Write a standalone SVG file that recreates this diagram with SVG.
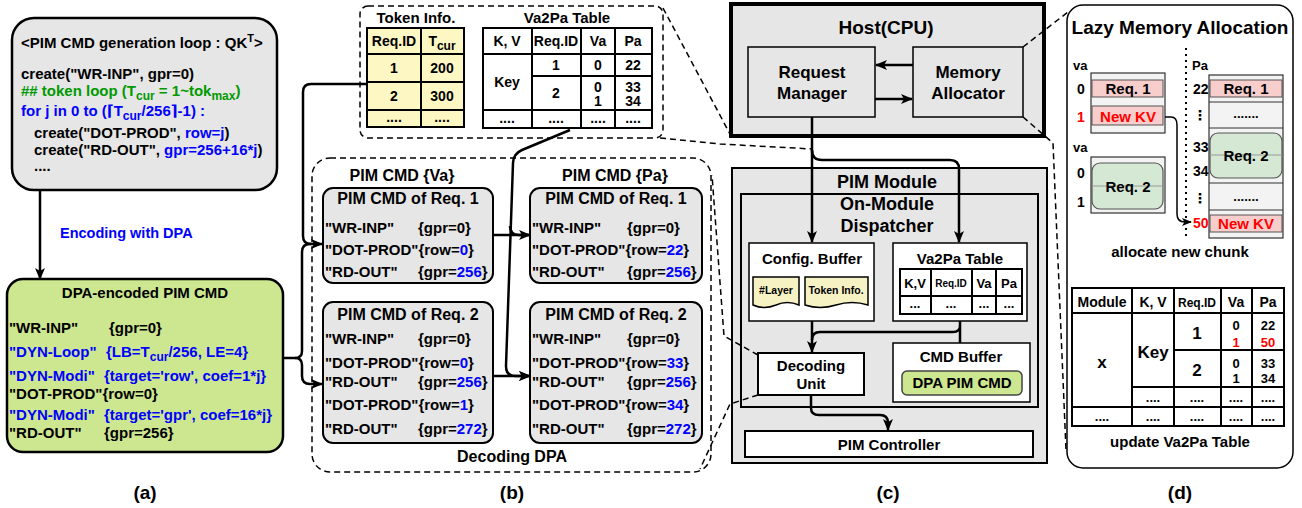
<svg xmlns="http://www.w3.org/2000/svg" width="1302" height="508" viewBox="0 0 1302 508" font-size="15">
<defs>
<marker id="ah" markerWidth="12" markerHeight="10" refX="11" refY="5" orient="auto" markerUnits="userSpaceOnUse"><path d="M0,0 L12,5 L0,10 L3,5 Z" fill="#000"/></marker>
<marker id="ahs" markerWidth="10" markerHeight="8" refX="9" refY="4" orient="auto" markerUnits="userSpaceOnUse"><path d="M0,0 L10,4 L0,8 L2.5,4 Z" fill="#000"/></marker>
</defs>
<style>
text{font-family:"Liberation Sans",Arial,"DejaVu Sans",sans-serif;font-weight:bold;fill:#000}
.c{text-anchor:middle}
.b{fill:#0000ff}
.r{fill:#ff0000}
.g{fill:#009900}
.s14{font-size:14px}
.s13{font-size:13px}
.s16{font-size:16px}
.s17{font-size:17px}
.s18{font-size:18px}
.s19{font-size:19px}
.gray{fill:#e6e6e6;stroke:#000;stroke-width:2}
.dash{fill:none;stroke:#000;stroke-width:1.5;stroke-dasharray:6,4}
.ln{fill:none;stroke:#000;stroke-width:2.5}
.tb{fill:none;stroke:#000;stroke-width:2}
.pink{fill:#f8cecc;stroke:#555;stroke-width:1}
.grn{fill:#d5e8d4;stroke:#555;stroke-width:1.2}
.stk{fill:#f3f3f3;stroke:#333;stroke-width:1.2}
</style>

<!-- Panel (a) -->
<g id="gen-loop">
<rect x="12" y="18" width="265" height="172" rx="22" fill="#e6e6e6" stroke="#000" stroke-width="2.5"/>
<text x="21" y="48">&lt;PIM CMD generation loop : QK<tspan dy="-6" font-size="11">T</tspan><tspan dy="6">&gt;</tspan></text>
<text x="21" y="79">create("WR-INP", gpr=0)</text>
<text x="21" y="96" class="g">## token loop (T<tspan dy="4" font-size="12">cur</tspan><tspan dy="-4"> = 1~tok</tspan><tspan dy="4" font-size="12">max</tspan><tspan dy="-4">)</tspan></text>
<text x="21" y="116" class="b">for j in 0 to (⌈T<tspan dy="4" font-size="12">cur</tspan><tspan dy="-4">/256⌉-1) :</tspan></text>
<text x="34" y="138">create("DOT-PROD", <tspan class="b">row=j</tspan>)</text>
<text x="34" y="155">create("RD-OUT", <tspan class="b">gpr=256+16*j</tspan>)</text>
<text x="34" y="171">....</text>
</g>
<g id="enc-label"><text x="60" y="238" class="b" font-size="14.5">Encoding with DPA</text></g>
<g id="dpa-encoded">
<rect x="7" y="279" width="276" height="173" rx="16" fill="#cde790" stroke="#000" stroke-width="2.5"/>
<text x="145" y="298" class="c">DPA-encoded PIM CMD</text>
<text x="9" y="333">"WR-INP"</text><text x="109" y="333">{gpr=0}</text>
<text x="9" y="357" class="b">"DYN-Loop"</text><text x="106" y="357" class="b">{LB=T<tspan dy="4" font-size="12">cur</tspan><tspan dy="-4">/256, LE=4}</tspan></text>
<text x="9" y="381" class="b">"DYN-Modi"</text><text x="104" y="381" class="b">{target='row', coef=1*j}</text>
<text x="9" y="399">"DOT-PROD"{row=0}</text>
<text x="9" y="420" class="b">"DYN-Modi"</text><text x="104" y="420" class="b">{target='gpr', coef=16*j}</text>
<text x="9" y="438">"RD-OUT"</text><text x="104" y="438">{gpr=256}</text>
</g>
<text x="145" y="499" class="c s19">(a)</text>

<!-- Panel (b) -->
<g id="tables-b">
<rect x="360" y="6" width="303" height="132" rx="8" class="dash"/>
<text x="416" y="23" class="c">Token Info.</text>
<text x="567" y="23" class="c">Va2Pa Table</text>
<rect x="367" y="28" width="97" height="99" fill="#fdf7c3" stroke="#000" stroke-width="2"/>
<path d="M421,28 V127 M367,54 H464 M367,82 H464 M367,110 H464" class="tb"/>
<text x="394" y="46" class="c s14">Req.ID</text>
<text x="442" y="46" class="c s14">T<tspan dy="4" font-size="12">cur</tspan></text>
<text x="394" y="73" class="c s14">1</text><text x="442" y="73" class="c s14">200</text>
<text x="394" y="101" class="c s14">2</text><text x="442" y="101" class="c s14">300</text>
<text x="394" y="122" class="c s14">....</text><text x="442" y="122" class="c s14">....</text>
<rect x="483" y="28" width="169" height="100" fill="#fff" stroke="#000" stroke-width="2"/>
<path d="M532,28 V128 M581,28 V128 M615,28 V128 M483,54 H652 M483,110 H652 M532,76 H652" class="tb"/>
<text x="507" y="46" class="c s14">K, V</text>
<text x="556" y="46" class="c s14">Req.ID</text>
<text x="598" y="46" class="c s14">Va</text>
<text x="633" y="46" class="c s14">Pa</text>
<text x="507" y="87" class="c s14">Key</text>
<text x="556" y="70" class="c s14">1</text><text x="598" y="70" class="c s14">0</text><text x="633" y="70" class="c s14">22</text>
<text x="556" y="98" class="c s14">2</text>
<text x="598" y="92" class="c s14">0</text><text x="598" y="106" class="c s14">1</text>
<text x="633" y="92" class="c s14">33</text><text x="633" y="106" class="c s14">34</text>
<text x="507" y="123" class="c s14">....</text><text x="556" y="123" class="c s14">....</text><text x="598" y="123" class="c s14">....</text><text x="633" y="123" class="c s14">....</text>
</g>

<g id="decoding-dpa">
<rect x="312" y="158" width="399" height="314" rx="18" class="dash"/>
<text x="402" y="181" class="c s16">PIM CMD {Va}</text>
<text x="615" y="181" class="c s16">PIM CMD {Pa}</text>
<text x="512" y="462" class="c s16">Decoding DPA</text>
</g>
<g id="va-req1">
<rect x="323" y="188" width="170" height="95" rx="10" class="gray"/>
<text x="408" y="204" class="c s16">PIM CMD of Req. 1</text>
<text x="325" y="233">"WR-INP"</text><text x="418" y="233">{gpr=0}</text>
<text x="325" y="255">"DOT-PROD"{row=<tspan class="b">0</tspan>}</text>
<text x="325" y="277">"RD-OUT"</text><text x="418" y="277">{gpr=<tspan class="b">256</tspan>}</text>
</g>
<g id="pa-req1">
<rect x="530" y="188" width="172" height="95" rx="10" class="gray"/>
<text x="616" y="204" class="c s16">PIM CMD of Req. 1</text>
<text x="532" y="233">"WR-INP"</text><text x="627" y="233">{gpr=0}</text>
<text x="532" y="255">"DOT-PROD"{row=<tspan class="b">22</tspan>}</text>
<text x="532" y="277">"RD-OUT"</text><text x="627" y="277">{gpr=<tspan class="b">256</tspan>}</text>
</g>
<g id="va-req2">
<rect x="323" y="302" width="170" height="141" rx="10" class="gray"/>
<text x="408" y="320" class="c s16">PIM CMD of Req. 2</text>
<text x="325" y="344">"WR-INP"</text><text x="418" y="344">{gpr=0}</text>
<text x="325" y="368">"DOT-PROD"{row=<tspan class="b">0</tspan>}</text>
<text x="325" y="387">"RD-OUT"</text><text x="418" y="387">{gpr=<tspan class="b">256</tspan>}</text>
<text x="325" y="410">"DOT-PROD"{row=<tspan class="b">1</tspan>}</text>
<text x="325" y="434">"RD-OUT"</text><text x="418" y="434">{gpr=<tspan class="b">272</tspan>}</text>
</g>
<g id="pa-req2">
<rect x="530" y="302" width="172" height="141" rx="10" class="gray"/>
<text x="616" y="320" class="c s16">PIM CMD of Req. 2</text>
<text x="532" y="344">"WR-INP"</text><text x="627" y="344">{gpr=0}</text>
<text x="532" y="368">"DOT-PROD"{row=<tspan class="b">33</tspan>}</text>
<text x="532" y="387">"RD-OUT"</text><text x="627" y="387">{gpr=<tspan class="b">256</tspan>}</text>
<text x="532" y="410">"DOT-PROD"{row=<tspan class="b">34</tspan>}</text>
<text x="532" y="434">"RD-OUT"</text><text x="627" y="434">{gpr=<tspan class="b">272</tspan>}</text>
</g>
<text x="512" y="499" class="c s19">(b)</text>

<!-- Panel (c) -->
<g id="host">
<rect x="731" y="4" width="313" height="132" fill="#e6e6e6" stroke="#000" stroke-width="4"/>
<text x="886" y="34" class="c s19">Host(CPU)</text>
</g>
<g id="request-manager">
<rect x="748" y="47" width="127" height="70" fill="#e6e6e6" stroke="#000" stroke-width="1.5"/>
<text x="812" y="78" class="c s17">Request</text><text x="812" y="99" class="c s17">Manager</text>
</g>
<g id="memory-allocator">
<rect x="913" y="47" width="110" height="70" fill="#e6e6e6" stroke="#000" stroke-width="1.5"/>
<text x="968" y="78" class="c s17">Memory</text><text x="968" y="99" class="c s17">Allocator</text>
</g>
<g id="pim-module">
<rect x="732" y="168" width="315" height="295" fill="#e6e6e6" stroke="#000" stroke-width="2"/>
<text x="887" y="188" class="c s18">PIM Module</text>
</g>
<g id="dispatcher">
<rect x="741" y="194" width="297" height="213" fill="#e6e6e6" stroke="#000" stroke-width="2"/>
<text x="887" y="210" class="c s18">On-Module</text>
<text x="887" y="232" class="c s18">Dispatcher</text>
</g>
<g id="config-buffer">
<rect x="749" y="243" width="125" height="78" fill="#fff" stroke="#000" stroke-width="1.5"/>
<text x="812" y="264" class="c">Config. Buffer</text>
<path d="M753,277 H799 V305 Q787,300 776,305 Q764,310 753,305 Z" fill="#f7f2c4" stroke="#000" stroke-width="1.5"/>
<text x="776" y="294" class="c" font-size="10.5">#Layer</text>
<path d="M805,277 H868 V305 Q852,300 836,305 Q820,310 805,305 Z" fill="#f7f2c4" stroke="#000" stroke-width="1.5"/>
<text x="836" y="294" class="c" font-size="10.5">Token Info.</text>
</g>
<g id="va2pa-c">
<rect x="893" y="243" width="134" height="78" fill="#fff" stroke="#000" stroke-width="1.5"/>
<text x="960" y="264" class="c">Va2Pa Table</text>
<rect x="900" y="269" width="122" height="45" fill="#fff" stroke="#000" stroke-width="2"/>
<path d="M931,269 V314 M972,269 V314 M996,269 V314 M900,296 H1022" class="tb"/>
<text x="915" y="288" class="c s13">K,V</text>
<text x="951" y="287" class="c" font-size="10">Req.ID</text>
<text x="984" y="288" class="c s13">Va</text>
<text x="1009" y="288" class="c s13">Pa</text>
<text x="915" y="308" class="c s13">...</text><text x="951" y="308" class="c s13">...</text><text x="984" y="308" class="c s13">...</text><text x="1009" y="308" class="c s13">...</text>
</g>
<g id="decoding-unit">
<rect x="758" y="353" width="106" height="42" fill="#fff" stroke="#000" stroke-width="2"/>
<text x="811" y="371" class="c">Decoding</text><text x="811" y="389" class="c">Unit</text>
</g>
<g id="cmd-buffer">
<rect x="893" y="343" width="137" height="59" fill="#fff" stroke="#000" stroke-width="1.5"/>
<text x="961" y="362" class="c">CMD Buffer</text>
<rect x="902" y="371" width="120" height="24" rx="5" fill="#cde790" stroke="#444" stroke-width="1.5"/>
<text x="962" y="388" class="c">DPA PIM CMD</text>
</g>
<g id="pim-controller">
<rect x="745" y="431" width="288" height="26" fill="#fff" stroke="#000" stroke-width="2"/>
<text x="889" y="450" class="c">PIM Controller</text>
</g>
<text x="888" y="499" class="c s19">(c)</text>

<!-- Panel (d) -->
<g id="lazy-alloc">
<rect x="1067" y="5" width="226" height="463" rx="16" fill="#fff" stroke="#000" stroke-width="1.5"/>
<text x="1180" y="34" class="c s19">Lazy Memory Allocation</text>
<path d="M1186,48 V240" fill="none" stroke="#000" stroke-width="2" stroke-dasharray="2,4"/>
<text x="1073" y="70" class="s13">va</text>
<text x="1192" y="70" class="s13">Pa</text>
<rect x="1091" y="73" width="74" height="60" class="stk"/>
<rect x="1092" y="80" width="71" height="17" class="pink"/>
<text x="1128" y="94" class="c">Req. 1</text>
<rect x="1092" y="106" width="71" height="19" class="pink"/>
<text x="1128" y="122" class="c r">New KV</text>
<text x="1081" y="94" class="c s14">0</text>
<text x="1081" y="122" class="c s14 r">1</text>
<text x="1073" y="152" class="s13">va</text>
<rect x="1091" y="157" width="74" height="56" class="stk"/>
<rect x="1092" y="163" width="71" height="46" rx="8" class="grn"/>
<path d="M1092,186 H1163" stroke="#999" stroke-width="1"/>
<text x="1128" y="192" class="c">Req. 2</text>
<text x="1081" y="178" class="c s14">0</text>
<text x="1081" y="207" class="c s14">1</text>
<rect x="1209" y="75" width="74" height="163" class="stk"/>
<rect x="1210" y="80" width="72" height="17" class="pink"/>
<text x="1246" y="94" class="c">Req. 1</text>
<path d="M1209,102 H1283 M1209,128 H1283 M1209,183 H1283 M1209,210 H1283" stroke="#333" stroke-width="1"/>
<text x="1246" y="118" class="c s13">.......</text>
<rect x="1210" y="133" width="72" height="45" rx="8" class="grn"/>
<path d="M1210,155 H1282" stroke="#999" stroke-width="1"/>
<text x="1246" y="161" class="c">Req. 2</text>
<text x="1246" y="201" class="c s13">.......</text>
<rect x="1210" y="215" width="72" height="17" class="pink"/>
<text x="1246" y="229" class="c r">New KV</text>
<text x="1193" y="94" class="s14">22</text>
<text x="1200" y="120" class="c s14">⋮</text>
<text x="1193" y="152" class="s14">33</text>
<text x="1193" y="176" class="s14">34</text>
<text x="1200" y="203" class="c s14">⋮</text>
<text x="1193" y="228" class="s14 r">50</text>
<text x="1180" y="257" class="c">allocate new chunk</text>
</g>
<g id="va2pa-d">
<rect x="1072" y="288" width="212" height="138" fill="#fff" stroke="#000" stroke-width="2"/>
<path d="M1132,288 V426 M1174,288 V426 M1221,288 V426 M1252,288 V426 M1072,313 H1284 M1072,407 H1284 M1132,387 H1284 M1174,350 H1284" class="tb"/>
<text x="1102" y="307" class="c s14">Module</text>
<text x="1153" y="307" class="c s14">K, V</text>
<text x="1197" y="307" class="c" font-size="12">Req.ID</text>
<text x="1236" y="307" class="c s14">Va</text>
<text x="1268" y="307" class="c s14">Pa</text>
<text x="1102" y="368" class="c s17">x</text>
<text x="1153" y="358" class="c s17">Key</text>
<text x="1197" y="339" class="c s17">1</text>
<text x="1197" y="376" class="c s17">2</text>
<text x="1236" y="330" class="c s13">0</text><text x="1236" y="347" class="c s13 r">1</text>
<text x="1268" y="330" class="c s13">22</text><text x="1268" y="347" class="c s13 r">50</text>
<text x="1236" y="368" class="c s13">0</text><text x="1236" y="383" class="c s13">1</text>
<text x="1268" y="368" class="c s13">33</text><text x="1268" y="383" class="c s13">34</text>
<text x="1153" y="402" class="c s13">....</text><text x="1197" y="402" class="c s13">....</text><text x="1236" y="402" class="c s13">....</text><text x="1268" y="402" class="c s13">....</text>
<text x="1102" y="421" class="c s13">....</text><text x="1153" y="421" class="c s13">....</text><text x="1197" y="421" class="c s13">....</text><text x="1236" y="421" class="c s13">....</text><text x="1268" y="421" class="c s13">....</text>
<text x="1180" y="447" class="c">update Va2Pa Table</text>
</g>
<text x="1180" y="499" class="c s19">(d)</text>

<!-- Connectors -->
<g id="connectors">
<path d="M40,190 V279" class="ln" marker-end="url(#ah)"/>
<path d="M283,358 H295 Q302,358 302,351 V252 Q302,244 310,244 H322" class="ln" marker-end="url(#ah)"/>
<path d="M295,358 Q302,358 302,365 V376 Q302,384 310,384 H322" class="ln" marker-end="url(#ah)"/>
<path d="M367,84 H311 Q303,84 303,92 V236 Q303,244 311,244" class="ln"/>
<path d="M493,235 H530" class="ln" marker-end="url(#ah)"/>
<path d="M493,376 H530" class="ln" marker-end="url(#ah)"/>
<path d="M570,130 L522,150 Q513,154 513,163 L506,366 Q506,376 515,376 H530" class="ln" marker-end="url(#ah)"/>
<path d="M510,226 Q510,235 519,235 H530" class="ln"/>
<path d="M913,65 H876" class="ln" marker-end="url(#ah)"/>
<path d="M875,99 H912" class="ln" marker-end="url(#ah)"/>
<path d="M812,117 V242" class="ln" marker-end="url(#ah)"/>
<path d="M812,150 Q812,160 822,160 H950 Q959,160 959,169 V242" class="ln" marker-end="url(#ah)"/>
<path d="M812,321 V352" class="ln" marker-end="url(#ah)"/>
<path d="M960,321 V343 M960,326 Q960,332 953,332 H820 Q812,332 812,340" class="ln"/>
<path d="M811,395 V408 Q811,415 819,415 H880 Q888,415 888,423 V430" class="ln" marker-end="url(#ah)"/>
<path d="M1165,117 H1171 Q1177,117 1177,125 V214 Q1177,222 1185,222 H1191" fill="none" stroke="#000" stroke-width="1.5" marker-end="url(#ahs)"/>
<path d="M663,8 L731,136" class="dash"/>
<path d="M660,138 L720,144 L812,149" class="dash"/>
<path d="M1023,47 L1068,12" class="dash"/>
<path d="M1023,117 L1053,143 L1066,450" class="dash"/>
<path d="M758,355 L724,336 L712,175" class="dash"/>
<path d="M758,395 L730,404 L700,469" class="dash"/>
</g>
</svg>
